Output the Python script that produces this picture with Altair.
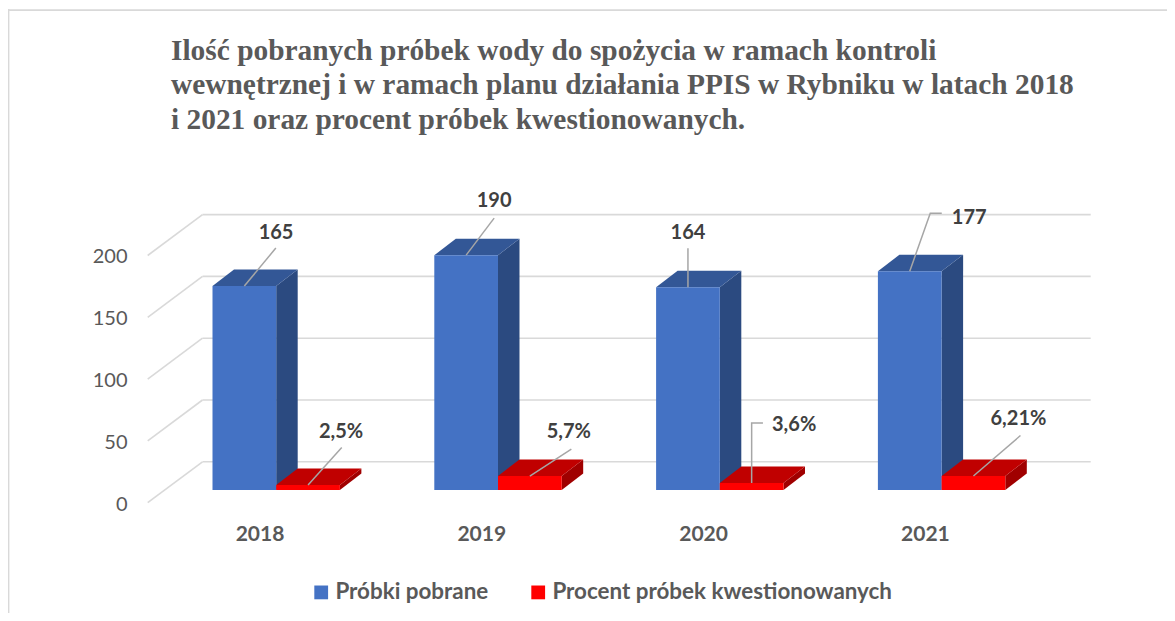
import altair as alt
import pandas as pd

# --- values ---
years = ["2018", "2019", "2020", "2021"]
samples = [165, 190, 164, 177]
questioned_height = [4, 11.3, 5.7, 11.3]
sample_labels = ["165", "190", "164", "177"]
questioned_labels = ["2,5%", "5,7%", "3,6%", "6,21%"]
y_ticks = [0, 50, 100, 150, 200]
series_names = ["Próbki pobrane", "Procent próbek kwestionowanych"]
title_lines = [
    "Ilość pobranych próbek wody do spożycia w ramach kontroli",
    "wewnętrznej i w ramach planu działania PPIS w Rybniku w latach 2018",
    "i 2021 oraz procent próbek kwestionowanych.",
]

# --- layout constants ---
W, H = 1159, 605
PX_X = 221.8          # pixels per category
PX_Y = 1.236          # pixels per value unit
X0_SCREEN, Y0_SCREEN = 212.5 - 8, 490 - 8
BAR = 63.7 / PX_X
DX, DY = 21.5 / PX_X, 16.5 / PX_Y
x_domain = [-X0_SCREEN / PX_X, (W - X0_SCREEN) / PX_X]
y_domain = [(Y0_SCREEN - H) / PX_Y, Y0_SCREEN / PX_Y]
xs = alt.Scale(domain=x_domain, nice=False, zero=False)
ys = alt.Scale(domain=y_domain, nice=False, zero=False)

GRID = "#d9d9d9"
LEAD = "#a6a6a6"

Y_AXIS = alt.Axis(
    values=y_ticks,
    grid=False,
    domain=False,
    ticks=False,
    offset=-119,
    labelPadding=0,
    labelOffset=14,
    labelFont="Lato",
    labelFontSize=20,
    labelColor="#595959",
    title=None,
)


def ux(p):
    return p / PX_X


def uy(p):
    return p / PX_Y


def X(f="x"):
    return alt.X(f"{f}:Q", scale=xs, axis=None)


def Y(f="y"):
    return alt.Y(f"{f}:Q", scale=ys, axis=Y_AXIS)


def front(offset, values, name):
    return pd.DataFrame(
        {
            "x": [i + offset for i in range(4)],
            "x2": [i + offset + BAR for i in range(4)],
            "y": values,
            "y0": [0] * 4,
            "s": [name] * 4,
        }
    )


def side_layer(offset, values, color):
    rows = []
    for i, v in enumerate(values):
        xr = i + offset + BAR
        rows += [
            {"id": i, "x": xr, "lo": 0, "hi": v},
            {"id": i, "x": xr + DX, "lo": DY, "hi": v + DY},
        ]
    return (
        alt.Chart(pd.DataFrame(rows))
        .mark_area(color=color, interpolate="linear", line=False)
        .encode(x=X(), y=Y("hi"), y2=alt.Y2("lo:Q"), detail="id:N")
    )


def top_layer(offset, values, color):
    rows = []
    for i, v in enumerate(values):
        xl = i + offset
        rows += [
            {"id": i, "y": v, "l": xl, "r": xl + BAR},
            {"id": i, "y": v + DY, "l": xl + DX, "r": xl + BAR + DX},
        ]
    return (
        alt.Chart(pd.DataFrame(rows))
        .mark_area(color=color, orient="horizontal", interpolate="linear")
        .encode(x=X("l"), x2=alt.X2("r:Q"), y=Y(), detail="id:N")
    )


# --- back wall / floor grid ---
GRID_BACK = uy(490 - 461.8)
GRID_FRONT = uy(490 - 502.7)
GRID_XL = ux(202.5 - 212.5)
GRID_XF = ux(147.7 - 212.5)
GRID_XR = ux(1090.7 - 212.5)

grid_df = pd.DataFrame(
    {"y": [t + GRID_BACK for t in y_ticks], "x": GRID_XL, "x2": GRID_XR}
)
grid = (
    alt.Chart(grid_df)
    .mark_rule(color=GRID, strokeWidth=1.6)
    .encode(x=X(), x2="x2:Q", y=Y())
)
diag_df = pd.DataFrame(
    {
        "x": GRID_XF,
        "x2": GRID_XL,
        "y": [t + GRID_FRONT for t in y_ticks],
        "y2": [t + GRID_BACK for t in y_ticks],
    }
)
diag = (
    alt.Chart(diag_df)
    .mark_rule(color=GRID, strokeWidth=1.6)
    .encode(x=X(), x2="x2:Q", y=Y(), y2="y2:Q")
)

# --- bars ---
color_scale = alt.Scale(domain=series_names, range=["#4472c4", "#ff0000"])
legend = alt.Legend(
    orient="none",
    legendX=302,
    legendY=573,
    direction="horizontal",
    title=None,
    symbolType="square",
    symbolSize=190,
    symbolStrokeWidth=0,
    labelFont="Lato",
    labelFontSize=22.4,
    labelFontWeight="bold",
    labelColor="#595959",
    labelLimit=500,
    columnPadding=38,
    labelOffset=3,
)
fronts = (
    alt.Chart(pd.concat([front(0, samples, series_names[0]), front(BAR, questioned_height, series_names[1])]))
    .mark_rect()
    .encode(
        x=X(),
        x2="x2:Q",
        y=Y(),
        y2="y0:Q",
        color=alt.Color("s:N", scale=color_scale, legend=legend),
    )
)

# --- leader lines and data labels ---
lead_blue = [
    [(31.5, -38)],
    [(28, -37)],
    [(0, -39)],
    [(20.5, -58), (32, -58)],
]
lead_red = [
    [(33.7, -37.5)],
    [(41.5, -27)],
    [(0, -60), (11.3, -60)],
    [(47, -40.5)],
]
text_blue = [(31.7, -53.5), (28, -54.5), (0, -54.5), (59.5, -53.5)]
text_red = [(33, -53), (39, -44), (42.5, -58), (45, -57)]

lead_rows, label_rows = [], []
for i in range(4):
    for key, off, vals, leads, texts, labs in (
        ("b", 0, samples, lead_blue, text_blue, sample_labels),
        ("r", BAR, questioned_height, lead_red, text_red, questioned_labels),
    ):
        ax, ay = i + off + BAR / 2, vals[i]
        lead_rows.append({"id": f"{key}{i}", "o": 0, "x": ax, "y": ay})
        for k, (px, py) in enumerate(leads[i]):
            lead_rows.append(
                {"id": f"{key}{i}", "o": k + 1, "x": ax + ux(px), "y": ay - uy(py)}
            )
        label_rows.append(
            {"x": ax + ux(texts[i][0]), "y": ay - uy(texts[i][1]), "t": labs[i]}
        )

leaders = (
    alt.Chart(pd.DataFrame(lead_rows))
    .mark_line(color=LEAD, strokeWidth=1.5)
    .encode(x=X(), y=Y(), detail="id:N", order="o:Q")
)
data_labels = (
    alt.Chart(pd.DataFrame(label_rows))
    .mark_text(font="Lato", fontSize=20, fontWeight="bold", color="#404040", baseline="middle")
    .encode(x=X(), y=Y(), text="t:N")
)

# --- category labels ---
cat_df = pd.DataFrame(
    {"x": [i + ux(260 - 212.5) for i in range(4)], "y": [uy(490 - 534.5)] * 4, "t": years}
)
cats = (
    alt.Chart(cat_df)
    .mark_text(font="Lato", fontSize=21, fontWeight="bold", color="#595959", baseline="middle")
    .encode(x=X(), y=Y(), text="t:N")
)

# --- outer frame (left and top edges) ---
frame_left = alt.Chart(pd.DataFrame({"a": [0]})).mark_rule(color=GRID, strokeWidth=1.8).encode(
    x=alt.value(0.5), y=alt.value(1), y2=alt.value(H)
)
frame_top = alt.Chart(pd.DataFrame({"a": [0]})).mark_rule(color=GRID, strokeWidth=1.8).encode(
    x=alt.value(1), x2=alt.value(W), y=alt.value(2.2)
)

chart = (
    alt.layer(
        frame_left,
        frame_top,
        grid,
        diag,
        side_layer(0, samples, "#2b4a80"),
        top_layer(0, samples, "#335796"),
        side_layer(BAR, questioned_height, "#a00000"),
        top_layer(BAR, questioned_height, "#c00000"),
        fronts,
        leaders,
        data_labels,
        cats,
    )
    .resolve_scale(x="shared", y="shared")
    .properties(
        width=W,
        height=H,
        padding=0,
        autosize=alt.AutoSizeParams(type="none"),
        title=alt.TitleParams(
            text=title_lines,
            anchor="start",
            frame="group",
            dx=163,
            offset=-127,
            font="Liberation Serif",
            fontSize=29.4,
            fontWeight="bold",
            color="#595959",
            lineHeight=34.5,
        ),
    )
    .configure_view(stroke=None)
)

chart.save("out.html", embed_options={"renderer": "svg", "actions": False})
